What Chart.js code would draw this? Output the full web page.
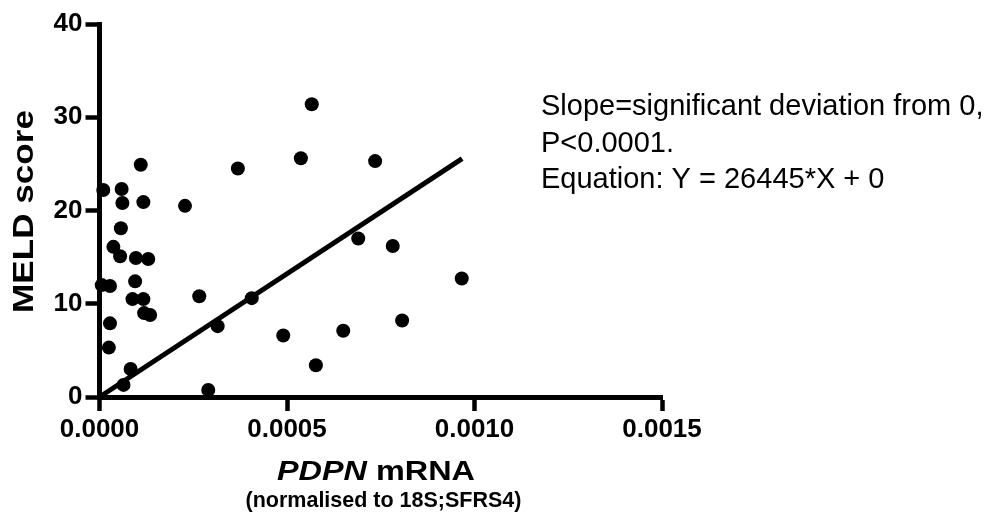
<!DOCTYPE html>
<html>
<head>
<meta charset="utf-8">
<script src="https://cdn.jsdelivr.net/npm/chart.js@4/dist/chart.umd.min.js"></script>
<style>
  html, body { margin: 0; padding: 0; background: #ffffff; }
  #wrap { width: 999px; height: 515px; position: relative; }
</style>
</head>
<body>
<div id="wrap"><canvas id="chart" width="999" height="515"></canvas></div>
<script>
// PDPN mRNA expression (normalised to 18S;SFRS4) for each patient
const pdpnMrna = [
  0.000110, 0.000010, 0.000059, 0.000061, 0.000117,
  0.000057, 0.000037, 0.000055, 0.000097, 0.000130,
  0.000006, 0.000028, 0.000095, 0.000088, 0.000117,
  0.000119, 0.000135, 0.000028, 0.000025, 0.000083,
  0.000064,
  0.000566, 0.000537, 0.000369, 0.000228, 0.000735,
  0.000690, 0.000782, 0.000266, 0.000406, 0.000315,
  0.000490, 0.000650, 0.000577, 0.000290, 0.000966,
  0.000807
];
// MELD score for each patient, same order
const meldScore = [
  24.9, 22.2, 22.3, 20.8, 20.9,
  18.1, 16.1, 15.1, 14.9, 14.8,
  12.0, 11.9, 12.4, 10.5, 10.5,
   9.0,  8.8,  7.9,  5.3,  3.0,
   1.3,
  31.4, 25.6, 24.5, 20.5, 25.3,
  17.0, 16.2, 10.8, 10.6,  7.6,
   6.6,  7.1,  3.4,  0.75, 12.7,
   8.2
];
// Regression through the origin
const fitSlope = 26445;
const fitRange = [0, 0.000967];
const xTicks = [0, 0.0005, 0.0010, 0.0015];
const yTicks = [0, 10, 20, 30, 40];
const noteLines = [
  'Slope=significant deviation from 0,',
  'P<0.0001.',
  'Equation: Y = 26445*X + 0'
];

const FONT = '"Liberation Sans", Arial, Helvetica, sans-serif';

const points = pdpnMrna.map((x, i) => ({ x: x, y: meldScore[i] }));
const fitLine = fitRange.map(x => ({ x: x, y: fitSlope * x }));

// Axis titles and the regression note, drawn onto the canvas
const titlesPlugin = {
  id: 'titles',
  afterDraw(chart) {
    const ctx = chart.ctx;
    ctx.save();
    ctx.fillStyle = '#000';

    // y-axis title, widened a little along its run
    ctx.save();
    ctx.translate(33, 211.5);
    ctx.rotate(-Math.PI / 2);
    ctx.scale(1.21, 1);
    ctx.font = 'bold 29px ' + FONT;
    ctx.textAlign = 'center';
    ctx.textBaseline = 'alphabetic';
    ctx.fillText('MELD score', 0, 0);
    ctx.restore();

    // x-axis title: italic gene name followed by "mRNA"
    ctx.save();
    ctx.translate(376, 480);
    ctx.scale(1.2, 1);
    const italicPart = 'PDPN';
    const plainPart = ' mRNA';
    ctx.textBaseline = 'alphabetic';
    ctx.textAlign = 'left';
    ctx.font = 'italic bold 27px ' + FONT;
    const w1 = ctx.measureText(italicPart).width;
    ctx.font = 'bold 27px ' + FONT;
    const w2 = ctx.measureText(plainPart).width;
    const startX = -(w1 + w2) / 2;
    ctx.font = 'italic bold 27px ' + FONT;
    ctx.fillText(italicPart, startX, 0);
    ctx.font = 'bold 27px ' + FONT;
    ctx.fillText(plainPart, startX + w1, 0);
    ctx.restore();

    ctx.font = 'bold 21.5px ' + FONT;
    ctx.textAlign = 'center';
    ctx.textBaseline = 'alphabetic';
    ctx.fillText('(normalised to 18S;SFRS4)', 383.5, 506.5);

    // regression note
    ctx.font = '29px ' + FONT;
    ctx.textAlign = 'left';
    ctx.textBaseline = 'alphabetic';
    noteLines.forEach((line, i) => {
      ctx.fillText(line, 541, 115 + i * 36.5);
    });
    ctx.restore();
  }
};

new Chart(document.getElementById('chart'), {
  type: 'scatter',
  data: {
    datasets: [
      {
        label: 'MELD',
        data: points,
        backgroundColor: '#000',
        borderWidth: 0,
        pointRadius: 7,
        pointHoverRadius: 7,
        clip: false
      },
      {
        type: 'line',
        label: 'fit',
        data: fitLine,
        borderColor: '#000',
        borderWidth: 5,
        pointRadius: 0,
        fill: false,
        clip: false
      }
    ]
  },
  options: {
    responsive: false,
    animation: false,
    events: [],
    layout: { padding: { top: 24, right: 337, left: 0, bottom: 0 } },
    plugins: {
      legend: { display: false },
      tooltip: { enabled: false },
      title: { display: false }
    },
    scales: {
      x: {
        type: 'linear',
        min: 0,
        max: 0.0015,
        afterFit(scale) { scale.height = 118; },
        afterBuildTicks(scale) { scale.ticks = xTicks.map(v => ({ value: v })); },
        ticks: {
          color: '#000',
          font: { family: FONT, size: 26, weight: 'bold' },
          padding: 3,
          maxRotation: 0,
          autoSkip: false,
          callback: v => v.toFixed(4)
        },
        grid: {
          drawOnChartArea: false,
          drawTicks: true,
          tickLength: 14,
          tickWidth: 4.5,
          tickColor: '#000'
        },
        border: { display: true, color: '#000', width: 5 }
      },
      y: {
        type: 'linear',
        min: 0,
        max: 40,
        afterFit(scale) { scale.width = 99.5; },
        afterBuildTicks(scale) { scale.ticks = yTicks.map(v => ({ value: v })); },
        ticks: {
          color: '#000',
          font: { family: FONT, size: 26, weight: 'bold' },
          padding: 3,
          autoSkip: false,
          callback: v => String(v)
        },
        grid: {
          drawOnChartArea: false,
          drawTicks: true,
          tickLength: 14,
          tickWidth: 4.5,
          tickColor: '#000'
        },
        border: { display: true, color: '#000', width: 5 }
      }
    }
  },
  plugins: [titlesPlugin]
});
</script>
</body>
</html>
